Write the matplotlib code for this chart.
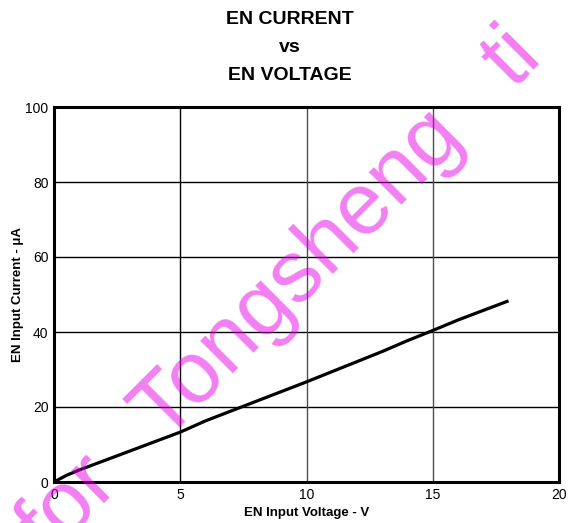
import matplotlib.pyplot as plt

plt.rcParams['font.family'] = ['Liberation Sans', 'DejaVu Sans']

# EN input voltage (V) vs EN input current (uA)
voltage = [0, 0.5, 1, 5, 6, 10, 13, 14, 15, 16, 18]
current = [0, 1.8, 3.2, 13.3, 16.3, 26.7, 34.8, 37.7, 40.4, 43.2, 48.3]

x_ticks = [0, 5, 10, 15, 20]
y_ticks = [0, 20, 40, 60, 80, 100]

# watermark pieces and their baseline start (pixels from top-left)
wm_words = ['for', 'Tongsheng', 'ti']
wm_starts = [(49, 557), (163, 441), (513, 89)]

W, H = 569, 523
fig = plt.figure(figsize=(W / 100, H / 100), dpi=100)
ax = fig.add_axes([54 / W, 41 / H, 505 / W, 375 / H])

ax.set_xlim(0, 20)
ax.set_ylim(0, 100)
ax.set_xticks(x_ticks)
ax.set_yticks(y_ticks)
ax.tick_params(length=0, labelsize=10, pad=4)

# grid: horizontal black, vertical slightly grey
for y in y_ticks[1:-1]:
    ax.axhline(y, color='black', linewidth=1.0, zorder=1)
for x in x_ticks[1:-1]:
    ax.axvline(x, color='0.3' if x != 5 else 'black', linewidth=1.0, zorder=1)

for sp in ax.spines.values():
    sp.set_linewidth(2.2)
    sp.set_color('black')

ax.plot(voltage, current, color='black', linewidth=2.3, zorder=4,
        solid_capstyle='butt')

ax.set_xlabel('EN Input Voltage - V', fontsize=9.5, fontweight='bold', labelpad=4)
ax.set_ylabel('EN Input Current - \u03bcA', fontsize=9.5, fontweight='bold', labelpad=1)

fig.text(290 / W, 1 - 20 / H, 'EN CURRENT', ha='center', va='center',
         fontsize=14, fontweight='bold')
fig.text(290 / W, 1 - 47 / H, 'vs', ha='center', va='center',
         fontsize=14, fontweight='bold')
fig.text(290 / W, 1 - 75 / H, 'EN VOLTAGE', ha='center', va='center',
         fontsize=14, fontweight='bold')

# watermark
for word, (px, py) in zip(wm_words, wm_starts):
    fig.text(px / W, 1 - py / H, word, fontsize=63, color='#e600e6',
             alpha=0.5, rotation=45, rotation_mode='anchor',
             ha='left', va='baseline', zorder=3)

fig.savefig('out.png', dpi=100)
